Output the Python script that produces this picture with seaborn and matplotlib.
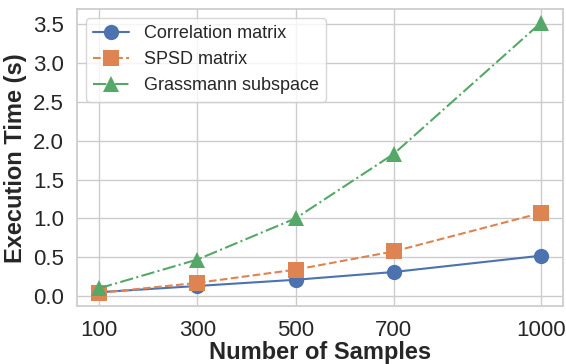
import matplotlib
matplotlib.use("Agg")
import matplotlib.pyplot as plt
import seaborn as sns
import pandas as pd
import numpy as np

samples = [100, 300, 500, 700, 1000]
correlation = [0.05, 0.13, 0.21, 0.31, 0.52]
spsd = [0.04, 0.17, 0.34, 0.575, 1.07]
grassmann = [0.10, 0.47, 1.00, 1.83, 3.52]
series_names = ["Correlation matrix", "SPSD matrix", "Grassmann subspace"]
yticks = [0.0, 0.5, 1.0, 1.5, 2.0, 2.5, 3.0, 3.5]

sns.set_theme(style="whitegrid")
plt.rcParams['font.family'] = ['Liberation Sans', 'DejaVu Sans']

fig, ax = plt.subplots(figsize=(5.66, 3.64), dpi=100)
pal = sns.color_palette("deep")
styles = [("o", "-"), ("s", "--"), ("^", "-.")]
for i, (name, vals) in enumerate(zip(series_names, [correlation, spsd, grassmann])):
    df = pd.DataFrame({"x": samples, "y": vals})
    sns.lineplot(data=df, x="x", y="y", ax=ax, color=pal[i], marker=styles[i][0],
                 linestyle=styles[i][1], markersize=11, linewidth=1.5,
                 markeredgewidth=0, label=name)

ax.set_xticks(samples)
ax.set_yticks(yticks)
ax.set_yticklabels([f"{v:.1f}" for v in yticks])
ax.set_xlabel("Number of Samples", fontsize=17, fontweight="bold", labelpad=0)
ax.set_ylabel("Execution Time (s)", fontsize=17, fontweight="bold")
ax.tick_params(labelsize=16)
ax.legend(fontsize=13, loc="upper left")
fig.subplots_adjust(left=0.136, right=0.995, top=0.975, bottom=0.158)
fig.savefig("out.png", dpi=100)
